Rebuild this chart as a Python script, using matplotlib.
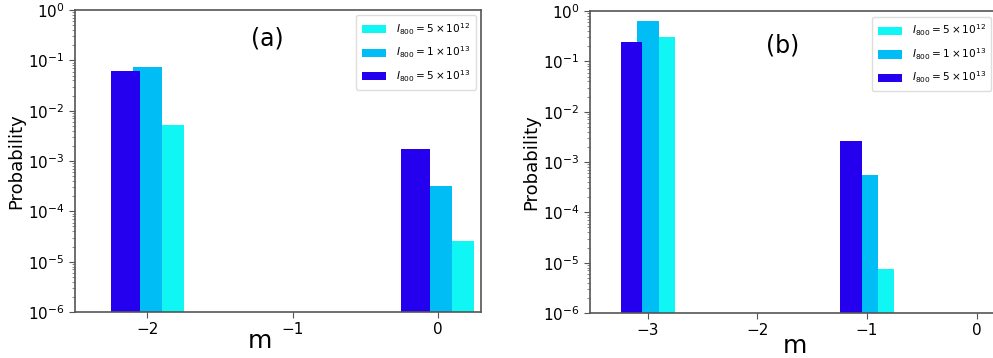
import numpy as np
import matplotlib
matplotlib.use("Agg")
import matplotlib.pyplot as plt
from matplotlib.ticker import NullFormatter

# Series labels (peak intensity) and colours
labels = [r"$I_{800} = 5\times10^{12}$",
          r"$I_{800} = 1\times10^{13}$",
          r"$I_{800} = 5\times10^{13}$"]
colors = ["#0ff6f4", "#00bdf6", "#2400ee"]

# Panel (a): magnetic quantum number m and probabilities
m_a = [-2, -1, 0]
p_a_5e12 = [5.2e-3, 0.0, 2.6e-5]
p_a_1e13 = [7.4e-2, 0.0, 3.2e-4]
p_a_5e13 = [6.1e-2, 0.0, 1.75e-3]

# Panel (b)
m_b = [-3, -2, -1, 0]
p_b_5e12 = [0.30, 0.0, 7.6e-6, 0.0]
p_b_1e13 = [0.63, 0.0, 5.4e-4, 0.0]
p_b_5e13 = [0.24, 0.0, 2.6e-3, 0.0]

offsets = [0.15, 0.0, -0.15]
width = 0.2

fig = plt.figure(figsize=(9.93, 3.58), dpi=100)
ax_a = fig.add_axes([0.0755, 0.1285, 0.409, 0.8435])
ax_b = fig.add_axes([0.594, 0.1257, 0.4226, 0.8435])


def draw(ax, m, series, xlim, tag, tag_xy, xlabel_xy, legend_kw):
    m = np.asarray(m, dtype=float)
    for vals, off, col, lab in zip(series, offsets, colors, labels):
        vals = np.asarray(vals, dtype=float)
        keep = vals > 0
        ax.bar(m[keep] + off, vals[keep], width=width, color=col, label=lab)
    ax.set_yscale("log")
    ax.set_ylim(1e-6, 1)
    ax.yaxis.set_minor_formatter(NullFormatter())
    ax.set_xlim(*xlim)
    ax.set_xticks(m)
    ax.set_xticklabels([("\u2212" + str(abs(int(v))) if v < 0 else str(int(v)))
                        for v in m])
    ax.tick_params(labelsize=11, color="#555555", length=4)
    ax.tick_params(which="minor", color="#777777", length=2)
    for sp in ax.spines.values():
        sp.set_color("#555555")
        sp.set_linewidth(1.2)
    ax.set_ylabel("Probability", fontsize=13, labelpad=2)
    ax.set_xlabel("m", fontsize=18)
    ax.xaxis.label.set_va("baseline")
    ax.xaxis.set_label_coords(*xlabel_xy)
    ax.text(tag_xy[0], tag_xy[1], tag, transform=ax.transAxes,
            fontsize=17, ha="center", va="center")
    ax.legend(fontsize=7.6, handlelength=2.3, handleheight=0.85,
              labelspacing=0.75, borderpad=0.55, handletextpad=0.9,
              framealpha=1, edgecolor="#dddddd", **legend_kw)


draw(ax_a, m_a, [p_a_5e12, p_a_1e13, p_a_5e13], (-2.5, 0.3), "(a)",
     (0.473, 0.907), (0.456, -0.119), dict(loc="upper right"))
draw(ax_b, m_b, [p_b_5e12, p_b_1e13, p_b_5e13], (-3.53, 0.3), "(b)",
     (0.46, 0.887), (0.489, -0.132),
     dict(loc="upper left", bbox_to_anchor=(872 / 993, 1 - 17 / 358),
          bbox_transform=fig.transFigure, borderaxespad=0))

fig.savefig("out.png", dpi=100, facecolor="white")
